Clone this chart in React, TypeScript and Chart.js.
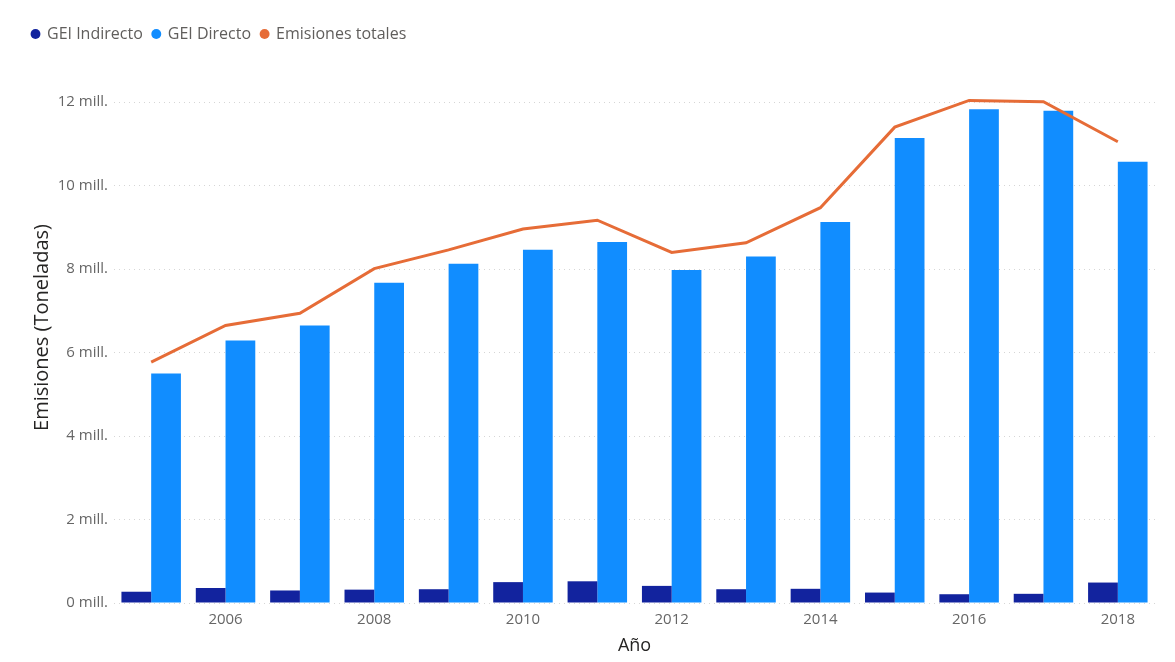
import React, { useEffect, useRef } from "react";
import { Chart, registerables } from "chart.js";

Chart.register(...registerables);

const years = ["2005","2006","2007","2008","2009","2010","2011","2012","2013","2014","2015","2016","2017","2018"];
// millions of tonnes
const geiIndirecto = [0.27,0.36,0.30,0.32,0.33,0.50,0.52,0.41,0.33,0.34,0.25,0.21,0.22,0.49];
const geiDirecto = [5.50,6.29,6.65,7.67,8.13,8.46,8.65,7.98,8.30,9.13,11.14,11.83,11.79,10.57];
const emisionesTotales = [5.77,6.65,6.94,8.01,8.46,8.96,9.17,8.40,8.63,9.47,11.40,12.04,12.01,11.05];
const yTicks = [0,2,4,6,8,10,12];

const FONT = "'Open Sans', 'Noto Sans', sans-serif";

export default function App() {
  const ref = useRef<HTMLCanvasElement | null>(null);
  useEffect(() => {
    if (!ref.current) return;
    const chart = new Chart(ref.current, {
      type: "bar",
      data: {
        labels: years,
        datasets: [
          {
            type: "bar",
            label: "GEI Indirecto",
            data: geiIndirecto,
            backgroundColor: "#12239E",
            categoryPercentage: 0.8,
            barPercentage: 1.0,
            order: 2,
          },
          {
            type: "bar",
            label: "GEI Directo",
            data: geiDirecto,
            backgroundColor: "#118DFF",
            categoryPercentage: 0.8,
            barPercentage: 1.0,
            order: 2,
          },
          {
            type: "line",
            label: "Emisiones totales",
            data: emisionesTotales,
            borderColor: "#E66C37",
            backgroundColor: "#E66C37",
            borderWidth: 3,
            pointRadius: 0,
            tension: 0,
            order: 1,
          } as any,
        ],
      },
      options: {
        animation: false,
        responsive: false,
        maintainAspectRatio: false,
        layout: { padding: { left: 22, right: 20, top: 16, bottom: 4 } },
        plugins: {
          tooltip: { enabled: false },
          legend: {
            position: "top",
            align: "start",
            labels: {
              usePointStyle: true,
              boxWidth: 7,
              boxHeight: 7,
              padding: 10,
              color: "#605E5C",
              font: { family: FONT, size: 16 },
              sort: (a: any, b: any) => a.datasetIndex - b.datasetIndex,
              generateLabels: (c: any) =>
                Chart.defaults.plugins.legend.labels
                  .generateLabels(c)
                  .map((l: any) => ({ ...l, lineWidth: 0, strokeStyle: "rgba(0,0,0,0)", pointStyle: "circle" })),
            },
          },
        },
        scales: {
          x: {
            grid: { display: false, drawTicks: false },
            border: { display: false },
            ticks: {
              autoSkip: false,
              maxRotation: 0,
              padding: 8,
              color: "#666666",
              font: { family: FONT, size: 15 },
              callback: (_v: any, i: number) => (Number(years[i]) % 2 === 0 ? years[i] : ""),
            },
            title: {
              display: true,
              text: "Año",
              color: "#252423",
              font: { family: FONT, size: 18 },
              padding: { top: 2, bottom: 1 },
            },
            afterFit: (s: any) => {
              s.height = 55;
            },
          },
          y: {
            min: 0,
            max: 13.2,
            grid: { color: "#d6d6d6", lineWidth: 1, drawTicks: false },
            border: { display: false, dash: [1, 4] },
            ticks: {
              stepSize: 2,
              includeBounds: false,
              padding: 6,
              color: "#666666",
              font: { family: FONT, size: 15 },
              callback: (v: any) => (yTicks.includes(Number(v)) ? `${v} mill.` : ""),
            },
            title: {
              display: true,
              text: "Emisiones (Toneladas)",
              color: "#252423",
              font: { family: FONT, size: 20 },
              padding: { top: 8, bottom: 0 },
            },
            afterFit: (s: any) => {
              s.width = 92;
            },
          },
        },
      },
    });
    return () => chart.destroy();
  }, []);
  return (
    <div style={{ position: "fixed", left: 0, top: 0, width: 1175, height: 662, background: "#fff" }}>
      <canvas ref={ref} width={1175} height={662} style={{ width: 1175, height: 662 }} />
    </div>
  );
}
